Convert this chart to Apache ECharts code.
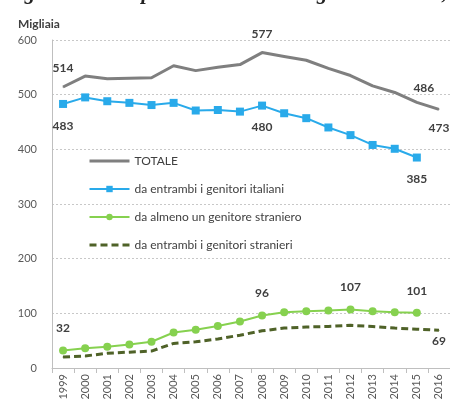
<!DOCTYPE html>
<html>
<head>
<meta charset="utf-8">
<script src="https://cdn.jsdelivr.net/npm/echarts@6/dist/echarts.min.js"></script>
<style>
html, body { margin: 0; padding: 0; background: #fff; }
#chart { width: 450px; height: 408px; }
</style>
</head>
<body>
<div id="chart"></div>
<script>
// dati (migliaia)
var anni = ['1999', '2000', '2001', '2002', '2003', '2004', '2005', '2006', '2007',
	'2008', '2009', '2010', '2011', '2012', '2013', '2014', '2015', '2016'];
var totale = [514, 534, 529, 530, 531, 553, 544, 550, 555, 577, 570, 563, 548, 535, 516, 504, 486, 473];
var italiani = [483, 495, 488, 485, 481, 485, 471, 472, 469, 480, 466, 457, 440, 426, 408, 401, 385];
var unoStraniero = [32, 36, 39, 43, 48, 65, 70, 77, 85, 96, 102, 104, 105, 107, 104, 102, 101];
var entrambiStranieri = [20, 22, 27, 29, 31, 45, 48, 53, 60, 68, 73, 75, 76, 78, 76, 73, 71, 69];

// etichette: indice -> posizione
var etTotale = { 0: 'top', 9: 'top', 16: 'top', 17: 'bottom' };
var etItaliani = { 0: 'bottom', 9: 'bottom', 16: 'bottom' };
var etStraniero = { 0: 'top', 9: 'top', 13: 'top', 16: 'top' };
var etStranieri = { 17: 'bottom' };

var fonte = 'Lato, "Noto Sans", sans-serif';

function conEtichette(valori, mappa, extra) {
	return valori.map(function (v, i) {
		if (mappa[i] === undefined) return v;
		var lab = {
			show: true,
			position: mappa[i],
			distance: 12,
			color: '#404040',
			fontWeight: 'bold',
			fontSize: 12,
			fontFamily: fonte
		};
		if (extra && extra[i]) {
			for (var k in extra[i]) lab[k] = extra[i][k];
		}
		return { value: v, label: lab };
	});
}

var myChart = echarts.init(document.getElementById('chart'));
var option = {
	animation: false,
	title: [{
		text: 'Figura 6 - Nati per cittadinanza dei genitori. Italia, 1999-2016',
		left: 0,
		top: -22,
		textStyle: {
			fontFamily: '"Liberation Serif", serif',
			fontStyle: 'italic',
			fontWeight: 'bold',
			fontSize: 21,
			color: '#222'
		}
	}, {
		text: 'Migliaia',
		left: 13,
		top: 13,
		textStyle: {
			fontFamily: fonte,
			fontWeight: 'bold',
			fontSize: 12,
			color: '#404040'
		}
	}],
	legend: {
		orient: 'vertical',
		left: 88,
		top: 155,
		padding: 0,
		itemWidth: 40,
		itemHeight: 8,
		itemGap: 16,
		textStyle: { fontFamily: fonte, fontSize: 12, color: '#404040' },
		data: [
			{ name: 'TOTALE', itemStyle: { opacity: 0 }, lineStyle: { width: 3 } },
			{ name: 'da entrambi i genitori italiani', lineStyle: { width: 2 } },
			{ name: 'da almeno un genitore straniero', lineStyle: { width: 2 } },
			{ name: 'da entrambi i genitori stranieri', itemStyle: { opacity: 0 }, lineStyle: { width: 3 } }
		]
	},
	grid: { left: 52, right: -2, top: 40, bottom: 40 },
	xAxis: {
		type: 'category',
		data: anni,
		boundaryGap: true,
		axisLine: { lineStyle: { color: '#bfbfbf', width: 1 } },
		axisTick: { show: true, length: 5, lineStyle: { color: '#bfbfbf' } },
		axisLabel: {
			rotate: 90,
			interval: 0,
			fontFamily: fonte,
			fontSize: 11,
			color: '#595959',
			margin: 6
		}
	},
	yAxis: {
		type: 'value',
		min: 0,
		max: 600,
		interval: 100,
		axisLine: { show: true, lineStyle: { color: '#bfbfbf' } },
		axisTick: { show: false },
		splitLine: { lineStyle: { color: '#c8c8c8', type: [2, 2] } },
		axisLabel: { fontFamily: fonte, fontSize: 11, color: '#595959', margin: 15 }
	},
	series: [{
		name: 'TOTALE',
		type: 'line',
		symbol: 'circle',
		symbolSize: 1,
		lineStyle: { color: '#7f7f7f', width: 3 },
		itemStyle: { color: '#7f7f7f' },
		data: conEtichette(totale, etTotale, {
			16: { offset: [7, 0], distance: 8 }
		})
	}, {
		name: 'da entrambi i genitori italiani',
		type: 'line',
		symbol: 'rect',
		symbolSize: 8,
		showAllSymbol: true,
		lineStyle: { color: '#29aaea', width: 2 },
		itemStyle: { color: '#29aaea' },
		data: conEtichette(italiani, etItaliani)
	}, {
		name: 'da almeno un genitore straniero',
		type: 'line',
		symbol: 'circle',
		symbolSize: 8,
		showAllSymbol: true,
		lineStyle: { color: '#86d14f', width: 2 },
		itemStyle: { color: '#86d14f' },
		data: conEtichette(unoStraniero, etStraniero)
	}, {
		name: 'da entrambi i genitori stranieri',
		type: 'line',
		symbol: 'circle',
		symbolSize: 1,
		lineStyle: { color: '#4f6228', width: 3, type: [7, 4] },
		itemStyle: { color: '#4f6228' },
		data: conEtichette(entrambiStranieri, etStranieri, {
			17: { distance: 4 }
		})
	}]
};
myChart.setOption(option);
</script>
</body>
</html>
